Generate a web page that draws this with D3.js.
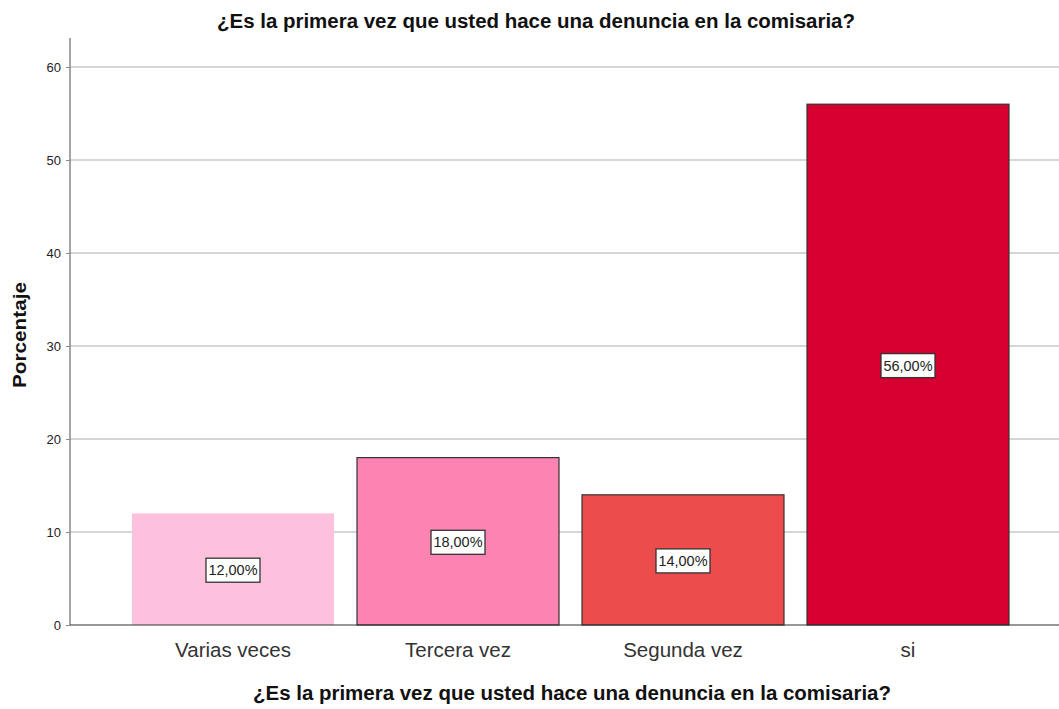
<!DOCTYPE html>
<meta charset="utf-8">
<script src="https://cdn.jsdelivr.net/npm/d3@7"></script>
<style>
    body { margin: 0; background: #fff; }
    text { font-family: "Liberation Sans", Arial, sans-serif; }
</style>
<div id="chart"></div>
<script>
    const categories = ["Varias veces", "Tercera vez", "Segunda vez", "si"];
    const percentages = [12, 18, 14, 56];
    const yTicks = [0, 10, 20, 30, 40, 50, 60];
    const barColors = ["#fdc1de", "#fd84b2", "#ec4c4c", "#d60031"];
    const titleText = "¿Es la primera vez que usted hace una denuncia en la comisaria?";

    const width = 1059, height = 709;
    const svg = d3.select("#chart").append("svg")
        .attr("width", width)
        .attr("height", height);

    const x = d3.scaleBand()
        .domain(categories)
        .range([132, 1009])
        .paddingInner(23 / 225)
        .paddingOuter(0);

    const y = d3.scaleLinear()
        .domain([0, 60])
        .range([625, 67]);

    // grid lines
    svg.append("g")
        .selectAll("line")
        .data(yTicks.slice(1))
        .enter().append("line")
        .attr("x1", 70).attr("x2", width)
        .attr("y1", d => y(d)).attr("y2", d => y(d))
        .attr("stroke", "#c8c8c8")
        .attr("stroke-width", 1.5);

    // y axis
    const yAxis = d3.axisLeft(y)
        .tickValues(yTicks)
        .tickSize(4)
        .tickPadding(5);
    const gy = svg.append("g")
        .attr("transform", "translate(70,0)")
        .call(yAxis);
    gy.select(".domain").remove();
    gy.selectAll(".tick line").attr("stroke", "#888");
    gy.selectAll(".tick text")
        .attr("fill", "#222")
        .style("font-size", "13px")
        .style("font-family", "'Liberation Sans', Arial, sans-serif");
    svg.append("line")
        .attr("x1", 70).attr("x2", 70)
        .attr("y1", 38).attr("y2", 625)
        .attr("stroke", "#888").attr("stroke-width", 1.5);

    // bars
    svg.append("g")
        .selectAll("rect")
        .data(categories)
        .enter().append("rect")
        .attr("x", d => x(d))
        .attr("y", (d, i) => y(percentages[i]))
        .attr("width", x.bandwidth())
        .attr("height", (d, i) => y(0) - y(percentages[i]))
        .attr("fill", (d, i) => barColors[i])
        .attr("stroke", (d, i) => i === 0 ? "none" : "#333")
        .attr("stroke-width", 1.2);

    // baseline
    svg.append("line")
        .attr("x1", 70).attr("x2", width)
        .attr("y1", 625).attr("y2", 625)
        .attr("stroke", "#333").attr("stroke-width", 1.2);

    // value labels
    const labels = svg.append("g")
        .selectAll("g")
        .data(categories)
        .enter().append("g")
        .attr("transform", (d, i) => `translate(${x(d) + x.bandwidth() / 2},${y(percentages[i] / 2) + 1})`);
    labels.append("rect")
        .attr("x", -27).attr("y", -12)
        .attr("width", 54).attr("height", 24)
        .attr("fill", "#fff")
        .attr("stroke", "#333")
        .attr("stroke-width", 1.3);
    labels.append("text")
        .attr("text-anchor", "middle")
        .attr("dy", "0.36em")
        .attr("fill", "#222")
        .attr("textLength", 49)
        .attr("lengthAdjust", "spacingAndGlyphs")
        .style("font-size", "14px")
        .text((d, i) => percentages[i].toFixed(2).replace(".", ",") + "%");

    // category labels
    svg.append("g")
        .selectAll("text")
        .data(categories)
        .enter().append("text")
        .attr("x", d => x(d) + x.bandwidth() / 2)
        .attr("y", 657)
        .attr("text-anchor", "middle")
        .attr("fill", "#333")
        .style("font-size", "20.5px")
        .text(d => d);

    // titles
    svg.append("text")
        .attr("x", 536).attr("y", 28)
        .attr("text-anchor", "middle")
        .attr("fill", "#111")
        .attr("textLength", 638)
        .attr("lengthAdjust", "spacingAndGlyphs")
        .style("font-size", "20px")
        .style("font-weight", "bold")
        .text(titleText);

    svg.append("text")
        .attr("x", 572).attr("y", 700)
        .attr("text-anchor", "middle")
        .attr("fill", "#111")
        .attr("textLength", 638)
        .attr("lengthAdjust", "spacingAndGlyphs")
        .style("font-size", "20px")
        .style("font-weight", "bold")
        .text(titleText);

    svg.append("text")
        .attr("transform", "translate(26,335) rotate(-90)")
        .attr("text-anchor", "middle")
        .attr("fill", "#111")
        .attr("textLength", 106)
        .attr("lengthAdjust", "spacingAndGlyphs")
        .style("font-size", "19px")
        .style("font-weight", "bold")
        .text("Porcentaje");
</script>
